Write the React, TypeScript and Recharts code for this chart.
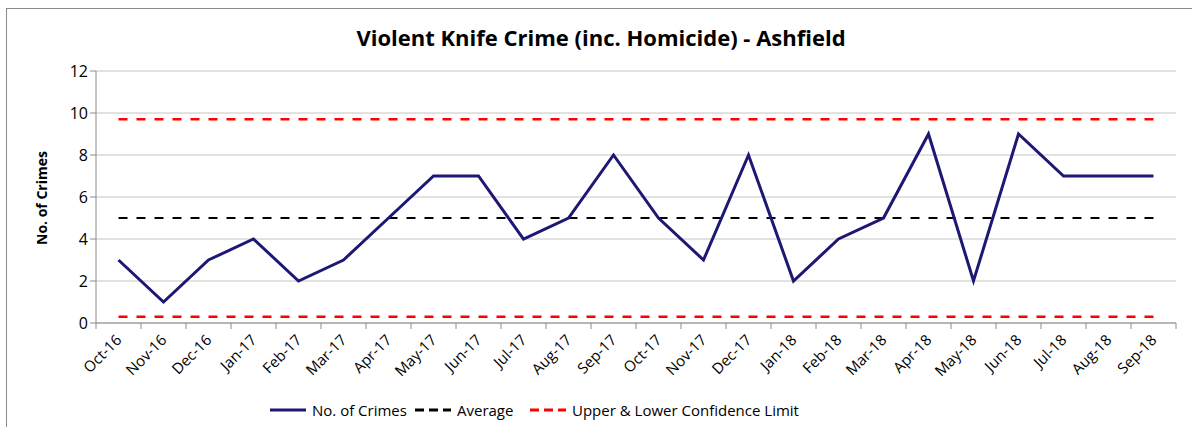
import { LineChart, Line, XAxis, YAxis, CartesianGrid, Legend } from 'recharts';

const months = [
  'Oct-16', 'Nov-16', 'Dec-16', 'Jan-17', 'Feb-17', 'Mar-17', 'Apr-17', 'May-17',
  'Jun-17', 'Jul-17', 'Aug-17', 'Sep-17', 'Oct-17', 'Nov-17', 'Dec-17', 'Jan-18',
  'Feb-18', 'Mar-18', 'Apr-18', 'May-18', 'Jun-18', 'Jul-18', 'Aug-18', 'Sep-18',
];
const crimes = [3, 1, 3, 4, 2, 3, 5, 7, 7, 4, 5, 8, 5, 3, 8, 2, 4, 5, 9, 2, 9, 7, 7, 7];
const average = 5;
const upperLimit = 9.7;
const lowerLimit = 0.3;
const yTicks = [0, 2, 4, 6, 8, 10, 12];

const data = months.map((m, i) => ({
  month: m,
  crimes: crimes[i],
  average,
  upper: upperLimit,
  lower: lowerLimit,
}));

const FONT = '"Open Sans", "Liberation Sans", sans-serif';
const NAVY = '#1c1873';
const HALF_BAND = 22.5;

function MonthTick(props: any) {
  const { x, y, payload, index } = props;
  const last = index === months.length - 1;
  return (
    <g>
      <line x1={x - HALF_BAND} y1={y - 8} x2={x - HALF_BAND} y2={y - 2} stroke="#8c8c8c" />
      {last && <line x1={x + HALF_BAND} y1={y - 8} x2={x + HALF_BAND} y2={y - 2} stroke="#8c8c8c" />}
      <text
        x={x + 4}
        y={y + 10}
        textAnchor="end"
        fontSize={15}
        fontFamily={FONT}
        fill="#000"
        transform={`rotate(-45 ${x + 4} ${y + 10})`}
      >
        {payload.value}
      </text>
    </g>
  );
}

function ChartLegend() {
  const item = (color: string, dashed: boolean, label: string, width: number) => (
    <div style={{ display: 'flex', alignItems: 'center', width }}>
      <svg width={36} height={6} style={{ marginRight: 6 }}>
        <line
          x1={0}
          y1={3}
          x2={36}
          y2={3}
          stroke={color}
          strokeWidth={3}
          strokeDasharray={dashed ? '9 5' : undefined}
        />
      </svg>
      <span>{label}</span>
    </div>
  );
  return (
    <div
      style={{
        display: 'flex',
        fontFamily: FONT,
        fontSize: 15,
        color: '#000',
        paddingLeft: 270,
      }}
    >
      {item(NAVY, false, 'No. of Crimes', 145)}
      {item('#000', true, 'Average', 115)}
      {item('#ff0000', true, 'Upper & Lower Confidence Limit', 270)}
    </div>
  );
}

export default function App() {
  return (
    <div style={{ position: 'absolute', left: 0, top: 0, width: 1192, height: 427, background: '#fff', overflow: 'hidden' }}>
      <div
        style={{
          position: 'absolute',
          left: 6,
          top: 8,
          width: 1200,
          height: 430,
          border: '1.5px solid #8a8a8a',
          boxSizing: 'border-box',
        }}
      />
      <div
        style={{
          position: 'absolute',
          top: 22,
          left: 0,
          width: 1202,
          textAlign: 'center',
          fontFamily: FONT,
          fontWeight: 700,
          fontSize: 22,
          color: '#000',
        }}
      >
        Violent Knife Crime (inc. Homicide) - Ashfield
      </div>
      <div style={{ position: 'absolute', left: 0, top: 0 }}>
        <LineChart
          width={1192}
          height={427}
          data={data}
          margin={{ top: 71, right: 16, left: 46, bottom: 14 }}
        >
          <CartesianGrid vertical={false} stroke="#c4c4c4" />
          <XAxis
            dataKey="month"
            padding={{ left: HALF_BAND, right: HALF_BAND }}
            tickLine={false}
            axisLine={{ stroke: '#8c8c8c' }}
            tick={<MonthTick />}
            interval={0}
            height={70}
          />
          <YAxis
            domain={[0, 12]}
            ticks={yTicks}
            width={50}
            axisLine={{ stroke: '#8c8c8c' }}
            tickLine={{ stroke: '#8c8c8c' }}
            tickSize={6}
            tick={{ fontSize: 16, fontFamily: FONT, fill: '#000' }}
            label={{
              value: 'No. of Crimes',
              angle: -90,
              position: 'insideLeft',
              offset: -4,
              dy: 48,
              style: { fontSize: 14, fontWeight: 700, fontFamily: FONT, fill: '#000' },
            }}
          />
          <Legend
            content={<ChartLegend />}
            wrapperStyle={{ top: 400, left: 0, width: 1192 }}
          />
          <Line
            dataKey="upper"
            stroke="#ff0000"
            strokeWidth={2.5}
            strokeDasharray="9 9"
            dot={false}
            isAnimationActive={false}
          />
          <Line
            dataKey="lower"
            stroke="#ff0000"
            strokeWidth={2.5}
            strokeDasharray="9 9"
            dot={false}
            isAnimationActive={false}
          />
          <Line
            dataKey="average"
            stroke="#000"
            strokeWidth={2}
            strokeDasharray="9 9"
            dot={false}
            isAnimationActive={false}
          />
          <Line
            dataKey="crimes"
            stroke={NAVY}
            strokeWidth={3}
            dot={false}
            isAnimationActive={false}
          />
        </LineChart>
      </div>
    </div>
  );
}
